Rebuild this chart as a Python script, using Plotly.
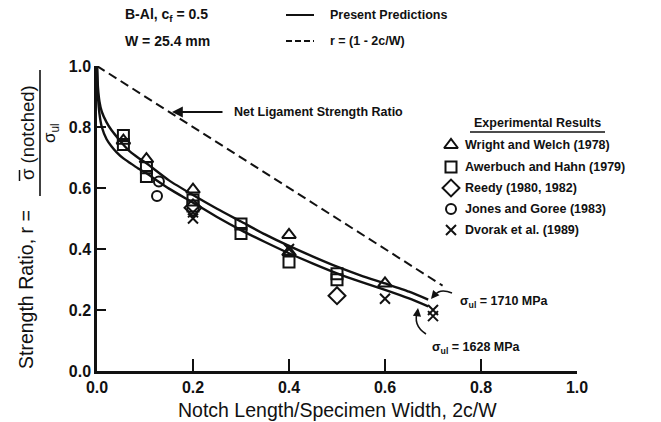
import plotly.graph_objects as go

# ---------------- data ----------------
pred_x = [0, 0.002, 0.005, 0.01, 0.02, 0.03, 0.041, 0.055, 0.069, 0.085, 0.103,
          0.15, 0.2, 0.25, 0.3, 0.35, 0.4, 0.45, 0.5, 0.55, 0.6, 0.65, 0.69]
pred_upper = [1.0, 0.93, 0.885, 0.85, 0.815, 0.79, 0.768, 0.742, 0.719, 0.70, 0.681,
              0.625, 0.577, 0.532, 0.49, 0.448, 0.41, 0.375, 0.342, 0.313, 0.287, 0.26, 0.234]
pred_lower = [1.0, 0.90, 0.845, 0.80, 0.76, 0.737, 0.717, 0.697, 0.682, 0.665, 0.648,
              0.598, 0.552, 0.505, 0.462, 0.423, 0.386, 0.352, 0.32, 0.292, 0.266, 0.238, 0.212]

net_x = [0.0, 0.72]
net_y = [1 - v for v in net_x]

wright_x = [0.055, 0.103, 0.2, 0.4, 0.4, 0.6]
wright_y = [0.755, 0.695, 0.595, 0.446, 0.39, 0.287]
awer_x = [0.055, 0.055, 0.103, 0.103, 0.2, 0.2, 0.3, 0.3, 0.4, 0.5, 0.5]
awer_y = [0.772, 0.743, 0.666, 0.638, 0.561, 0.541, 0.482, 0.451, 0.357, 0.319, 0.299]
reedy_x = [0.2, 0.5]
reedy_y = [0.535, 0.247]
jones_x = [0.129, 0.125]
jones_y = [0.621, 0.574]
dvorak_x = [0.2, 0.2, 0.4, 0.6, 0.7, 0.7]
dvorak_y = [0.52, 0.50, 0.40, 0.237, 0.20, 0.18]

legend_names = ["Wright and Welch (1978)", "Awerbuch and Hahn (1979)",
                "Reedy (1980, 1982)", "Jones and Goree (1983)", "Dvorak et al. (1989)"]
legend_symbols = ["triangle-up-open", "square-open", "diamond-open", "circle-open", "x-thin-open"]

x_ticks = [0.0, 0.2, 0.4, 0.6, 0.8, 1.0]
y_ticks = [0.0, 0.2, 0.4, 0.6, 0.8, 1.0]

# ---------------- layout geometry (pixels) ----------------
W, H = 661, 422
L, R, T, B = 97, 84, 66, 51
PW, PH = W - L - R, H - T - B


def px(x):
    return (x - L) / PW


def py(y):
    return (H - B - y) / PH


FONT = "Liberation Sans, Arial, sans-serif"
BLACK = "#111111"

fig = go.Figure()

# prediction curves
for yy in (pred_upper, pred_lower):
    fig.add_trace(go.Scatter(x=pred_x, y=yy, mode="lines",
                             line=dict(color=BLACK, width=2.4, shape="spline", smoothing=0.6),
                             showlegend=False, hoverinfo="skip"))
# net ligament line
fig.add_trace(go.Scatter(x=net_x, y=net_y, mode="lines",
                         line=dict(color=BLACK, width=2, dash="9px,5px"),
                         showlegend=False, hoverinfo="skip"))

series = [(wright_x, wright_y), (awer_x, awer_y), (reedy_x, reedy_y),
          (jones_x, jones_y), (dvorak_x, dvorak_y)]
sizes = [12, 11, 13, 10, 10]
for (sx, sy), sym, sz in zip(series, legend_symbols, sizes):
    fig.add_trace(go.Scatter(x=sx, y=sy, mode="markers",
                             marker=dict(symbol=sym, size=sz, color=BLACK,
                                         line=dict(color=BLACK, width=2)),
                             showlegend=False, cliponaxis=False))

# custom experimental legend
leg_rows = [145, 167, 188, 209, 230]
for name, sym, sz, yr in zip(legend_names, legend_symbols, sizes, leg_rows):
    fig.add_trace(go.Scatter(x=[px(451)], y=[py(yr)], xaxis="x2", yaxis="y2", mode="markers",
                             marker=dict(symbol=sym, size=sz, color=BLACK,
                                         line=dict(color=BLACK, width=2)),
                             showlegend=False, cliponaxis=False))

ann = []


def text(x, y, s, size=13, xanchor="left", yanchor="middle", angle=0, bold=False):
    if bold:
        s = f"<b>{s}</b>"
    ann.append(dict(x=px(x), y=py(y), xref="paper", yref="paper", text=s, showarrow=False,
                    xanchor=xanchor, yanchor=yanchor, textangle=angle,
                    font=dict(family=FONT, size=size, color=BLACK)))


for name, yr in zip(legend_names, leg_rows):
    text(463, yr, name, size=12.5, bold=True)
text(537, 123, "Experimental Results", size=12.5, xanchor="center", bold=True)

text(123, 15, "B-Al, c<sub>f</sub> = 0.5", size=14, bold=True)
text(123, 41, "W = 25.4 mm", size=14, bold=True)
text(328, 15, "Present Predictions", size=12.5, bold=True)
text(328, 41, "r = (1 - 2c/W)", size=12.5, bold=True)
text(232, 112, "Net Ligament Strength Ratio", size=12.5, bold=True)
text(458, 302, "σ<sub>ul</sub> = 1710 MPa", size=12.5, bold=True)
text(430, 348, "σ<sub>ul</sub> = 1628 MPa", size=12.5, bold=True)

# axis titles
text(337, 410, "Notch Length/Specimen Width, 2c/W", size=19.5, xanchor="center")
text(26, 290, "Strength Ratio, r =", size=19.5, xanchor="center", angle=-90)
text(27, 133, "σ (notched)", size=18.5, xanchor="center", angle=-90)
text(51, 133, "σ<sub>ul</sub>", size=17, xanchor="center", angle=-90)

# arrows
ann.append(dict(x=px(172), y=py(112), xref="paper", yref="paper", ax=52, ay=0,
                axref="pixel", ayref="pixel", text="", showarrow=True, arrowhead=2,
                arrowsize=1.2, arrowwidth=1.8, arrowcolor=BLACK, standoff=0))
ann.append(dict(x=px(431), y=py(299), xref="paper", yref="paper", ax=5, ay=-6,
                text="", showarrow=True, arrowhead=2, arrowsize=1.1, arrowwidth=1.5,
                arrowcolor=BLACK, standoff=0))
ann.append(dict(x=px(418), y=py(308), xref="paper", yref="paper", ax=-1, ay=8,
                text="", showarrow=True, arrowhead=2, arrowsize=1.1, arrowwidth=1.5,
                arrowcolor=BLACK, standoff=0))

shapes = [
    # legend line samples
    dict(type="line", xref="paper", yref="paper", x0=px(286), x1=px(314), y0=py(15), y1=py(15),
         line=dict(color=BLACK, width=2)),
    dict(type="line", xref="paper", yref="paper", x0=px(286), x1=px(314), y0=py(41), y1=py(41),
         line=dict(color=BLACK, width=2, dash="6px,3px")),
    # underline of Experimental Results
    dict(type="line", xref="paper", yref="paper", x0=px(470), x1=px(605), y0=py(132), y1=py(132),
         line=dict(color=BLACK, width=1.5)),
    # fraction bar
    dict(type="line", xref="paper", yref="paper", x0=px(40), x1=px(40), y0=py(70), y1=py(196),
         line=dict(color=BLACK, width=1.6)),
    # overbar of sigma in numerator
    dict(type="line", xref="paper", yref="paper", x0=px(19.5), x1=px(19.5), y0=py(170), y1=py(181),
         line=dict(color=BLACK, width=1.5)),
    # curved arrow bodies
    dict(type="path", xref="paper", yref="paper",
         path=f"M {px(452)} {py(293)} Q {px(440)} {py(288)} {px(435)} {py(295)}",
         line=dict(color=BLACK, width=1.5)),
    dict(type="path", xref="paper", yref="paper",
         path=f"M {px(426)} {py(334)} Q {px(412)} {py(325)} {px(418)} {py(310)}",
         line=dict(color=BLACK, width=1.5)),
]

fig.update_layout(
    width=W, height=H, margin=dict(l=L, r=R, t=T, b=B),
    paper_bgcolor="white", plot_bgcolor="white",
    showlegend=False, annotations=ann, shapes=shapes,
    xaxis=dict(range=[0, 1], tickvals=x_ticks, ticktext=[f"<b>{v:.1f}</b>" for v in x_ticks],
               showgrid=False, zeroline=False, showline=True, linecolor=BLACK, linewidth=2.5,
               ticks="inside", ticklen=12, tickwidth=2, tickcolor=BLACK,
               tickfont=dict(family=FONT, size=16, color=BLACK)),
    yaxis=dict(range=[0, 1], tickvals=y_ticks, ticktext=[f"<b>{v:.1f}</b>" for v in y_ticks],
               showgrid=False, zeroline=False, showline=True, linecolor=BLACK, linewidth=2.5,
               ticks="inside", ticklen=9, tickwidth=2, tickcolor=BLACK,
               tickfont=dict(family=FONT, size=16, color=BLACK)),
    xaxis2=dict(range=[0, 1], overlaying="x", visible=False, domain=[0, 1]),
    yaxis2=dict(range=[0, 1], overlaying="y", visible=False),
)

fig.write_html("out.html")
